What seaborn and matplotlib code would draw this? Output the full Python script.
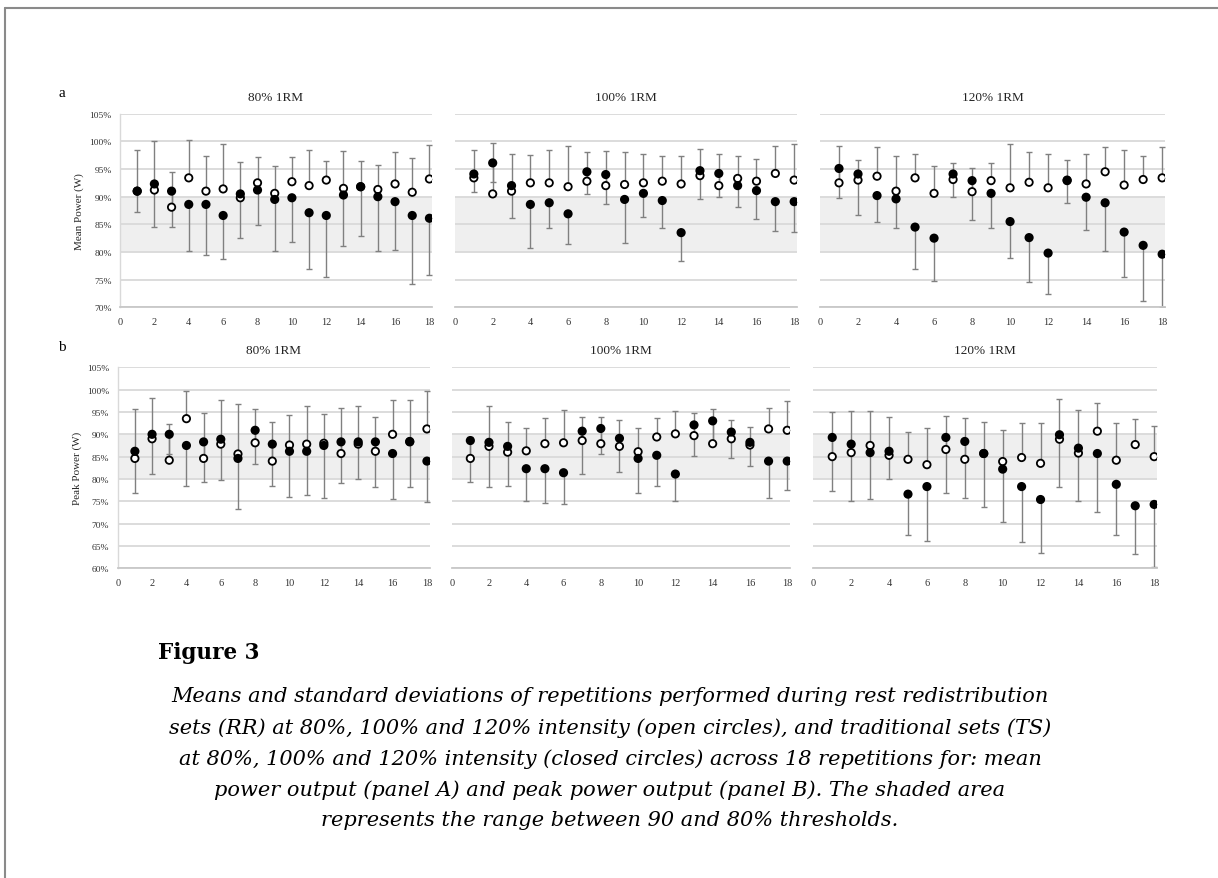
import numpy as np
import pandas as pd
import matplotlib.pyplot as plt
import seaborn as sns
from matplotlib.lines import Line2D

reps = list(range(1, 19))
intensities = ["80% 1RM", "100% 1RM", "120% 1RM"]

# panel a - mean power (% of reference), open = RR, closed = TS
mean_80_rr = [91.0, 91.2, 88.1, 93.4, 91.0, 91.4, 89.8, 92.5, 90.6, 92.7, 92.0, 93.0, 91.5, 91.8, 91.3, 92.3, 90.8, 93.2]
mean_80_ts = [91.0, 92.3, 91.0, 88.6, 88.6, 86.6, 90.5, 91.2, 89.5, 89.8, 87.1, 86.6, 90.3, 91.8, 90.0, 89.1, 86.6, 86.1]
mean_80_rr_hi = [98.4, 100.0, 94.5, 100.3, 97.4, 99.5, 96.3, 97.2, 95.6, 97.1, 98.5, 96.4, 98.3, 96.4, 95.8, 98.0, 97.0, 99.3]
mean_80_ts_lo = [87.3, 84.6, 84.6, 80.1, 79.5, 78.7, 82.6, 84.8, 80.1, 81.8, 77.0, 75.5, 81.0, 82.8, 80.1, 80.3, 74.2, 75.8]

mean_100_rr = [93.4, 90.5, 91.0, 92.5, 92.5, 91.8, 92.8, 92.0, 92.2, 92.5, 92.8, 92.3, 93.8, 92.0, 93.3, 92.8, 94.2, 93.0]
mean_100_ts = [94.1, 96.1, 92.0, 88.6, 88.9, 86.9, 94.5, 94.0, 89.5, 90.6, 89.3, 83.5, 94.7, 94.2, 92.0, 91.1, 89.1, 89.1]
mean_100_rr_hi = [98.4, 99.7, 97.8, 97.5, 98.5, 99.2, 98.0, 98.2, 98.1, 97.8, 97.3, 97.3, 98.7, 97.8, 97.3, 96.8, 99.2, 99.5]
mean_100_ts_lo = [90.8, 92.6, 86.2, 80.8, 84.3, 81.4, 90.4, 88.6, 81.7, 86.4, 84.3, 78.4, 89.5, 90.0, 88.1, 86.0, 83.8, 83.6]

mean_120_rr = [92.5, 93.0, 93.7, 91.0, 93.4, 90.6, 93.1, 90.9, 92.9, 91.6, 92.6, 91.6, 92.9, 92.3, 94.5, 92.1, 93.1, 93.4]
mean_120_ts = [95.1, 94.1, 90.2, 89.6, 84.5, 82.5, 94.1, 92.9, 90.6, 85.5, 82.6, 79.8, 93.0, 89.9, 88.9, 83.6, 81.2, 79.6]
mean_120_rr_hi = [99.1, 96.7, 98.9, 97.4, 97.8, 95.5, 96.1, 95.1, 96.1, 99.6, 98.1, 97.8, 96.7, 97.8, 98.9, 98.4, 97.3, 98.9]
mean_120_ts_lo = [89.8, 86.7, 85.5, 84.3, 77.0, 74.7, 90.0, 85.8, 84.3, 78.9, 74.5, 72.4, 88.8, 83.9, 80.1, 75.4, 71.2, 70.0]

# panel b - peak power
peak_80_rr = [84.6, 89.0, 84.2, 93.5, 84.6, 87.8, 85.6, 88.1, 84.0, 87.6, 87.8, 88.0, 85.7, 87.8, 86.2, 90.0, 88.3, 91.2]
peak_80_ts = [86.2, 90.0, 90.0, 87.5, 88.3, 88.9, 84.6, 90.9, 87.8, 86.2, 86.2, 87.5, 88.3, 88.3, 88.3, 85.7, 88.4, 84.0]
peak_80_rr_hi = [95.6, 98.1, 92.3, 99.7, 94.7, 97.7, 96.8, 95.6, 92.7, 94.3, 96.4, 94.6, 95.8, 96.3, 93.9, 97.7, 97.7, 99.7]
peak_80_ts_lo = [76.9, 81.1, 85.5, 78.4, 79.4, 79.7, 73.3, 83.3, 78.4, 76.0, 76.4, 75.7, 79.0, 79.9, 78.1, 75.5, 78.1, 74.9]

peak_100_rr = [84.6, 87.3, 86.0, 86.3, 87.9, 88.1, 88.6, 87.9, 87.3, 86.1, 89.4, 90.1, 89.7, 87.9, 89.0, 87.6, 91.2, 90.9]
peak_100_ts = [88.6, 88.2, 87.3, 82.3, 82.3, 81.4, 90.7, 91.3, 89.1, 84.6, 85.3, 81.1, 92.1, 93.0, 90.5, 88.2, 84.0, 84.0]
peak_100_rr_hi = [89.5, 96.4, 92.7, 91.4, 93.6, 95.4, 93.9, 93.9, 93.1, 91.4, 93.6, 95.2, 94.7, 95.6, 93.3, 91.6, 96.0, 97.4]
peak_100_ts_lo = [79.4, 78.1, 78.4, 75.0, 74.6, 74.4, 81.2, 85.5, 81.5, 76.9, 78.4, 75.0, 85.1, 88.0, 84.8, 83.0, 75.8, 77.6]

peak_120_rr = [85.0, 85.9, 87.5, 85.3, 84.4, 83.2, 86.6, 84.4, 85.7, 83.9, 84.8, 83.5, 88.9, 85.8, 90.7, 84.2, 87.7, 85.0]
peak_120_ts = [89.3, 87.8, 85.9, 86.2, 76.6, 78.3, 89.3, 88.4, 85.7, 82.2, 78.3, 75.4, 89.9, 86.9, 85.7, 78.8, 74.0, 74.3]
peak_120_rr_hi = [94.9, 95.2, 95.2, 93.9, 90.6, 91.4, 94.2, 93.7, 92.8, 90.9, 92.5, 92.6, 97.8, 95.5, 97.0, 92.6, 93.5, 91.9]
peak_120_ts_lo = [77.2, 75.1, 75.5, 80.1, 67.4, 66.2, 76.9, 75.8, 73.8, 70.4, 66.0, 63.5, 78.3, 75.0, 72.6, 67.4, 63.1, 60.4]

caption = [
    "Means and standard deviations of repetitions performed during rest redistribution",
    "sets (RR) at 80%, 100% and 120% intensity (open circles), and traditional sets (TS)",
    "at 80%, 100% and 120% intensity (closed circles) across 18 repetitions for: mean",
    "power output (panel A) and peak power output (panel B). The shaded area",
    "represents the range between 90 and 80% thresholds.",
]

sns.set_style("white")
plt.rcParams["font.family"] = ["Liberation Serif", "DejaVu Serif"]
plt.rcParams["text.color"] = "black"

W, H = 1218, 879
fig = plt.figure(figsize=(W / 100, H / 100), dpi=100)

def px_axes(x0, x1, ytop, ybot):
    return fig.add_axes([x0 / W, 1 - ybot / H, (x1 - x0) / W, (ybot - ytop) / H])

rows = [
    {
        "label": "a", "ylabel": "Mean Power (W)", "ylim": (70, 105),
        "ytop": 114.7, "ybot": 308.3,
        "cols": [(120, 432), (455, 797), (820, 1165)],
        "data": [
            (mean_80_rr, mean_80_ts, mean_80_rr_hi, mean_80_ts_lo),
            (mean_100_rr, mean_100_ts, mean_100_rr_hi, mean_100_ts_lo),
            (mean_120_rr, mean_120_ts, mean_120_rr_hi, mean_120_ts_lo),
        ],
    },
    {
        "label": "b", "ylabel": "Peak Power (W)", "ylim": (60, 105),
        "ytop": 368.3, "ybot": 569.3,
        "cols": [(117.7, 429.5), (451.7, 790), (813.3, 1157)],
        "data": [
            (peak_80_rr, peak_80_ts, peak_80_rr_hi, peak_80_ts_lo),
            (peak_100_rr, peak_100_ts, peak_100_rr_hi, peak_100_ts_lo),
            (peak_120_rr, peak_120_ts, peak_120_rr_hi, peak_120_ts_lo),
        ],
    },
]

for row in rows:
    for j, (x0, x1) in enumerate(row["cols"]):
        ax = px_axes(x0, x1, row["ytop"], row["ybot"])
        rr, ts, rr_hi, ts_lo = row["data"][j]
        rr = np.array(rr)
        ts = np.array(ts)
        df = pd.DataFrame({
            "rep": reps + reps,
            "power": list(rr) + list(ts),
            "set": ["RR"] * 18 + ["TS"] * 18,
        })

        ax.axhspan(80, 90, color="#efefef", zorder=0, lw=0)
        ax.errorbar(reps, rr, yerr=[np.zeros(18), np.array(rr_hi) - rr], fmt="none",
                    ecolor="#808080", elinewidth=1.0, capsize=2, capthick=1.0, zorder=2)
        ax.errorbar(reps, ts, yerr=[ts - np.array(ts_lo), np.zeros(18)], fmt="none",
                    ecolor="#808080", elinewidth=1.0, capsize=2, capthick=1.0, zorder=2)
        sns.scatterplot(data=df, x="rep", y="power", hue="set",
                        palette={"RR": "white", "TS": "black"}, edgecolor="black",
                        linewidth=1.3, s=28, legend=False, ax=ax, zorder=3)

        lo, hi = row["ylim"]
        ax.set_ylim(lo, hi)
        ax.set_xlim(0, 18.15)
        ax.set_yticks(np.arange(lo, hi + 1, 5))
        ax.set_yticklabels([f"{v}%" for v in range(lo, hi + 1, 5)])
        ax.set_xticks(range(0, 19, 2))
        ax.yaxis.grid(True, color="#d9d9d9", lw=1.3)
        ax.xaxis.grid(False)
        ax.set_axisbelow(True)
        ax.tick_params(length=0, colors="#333333")
        ax.tick_params(axis="y", labelsize=6.8, pad=6)
        ax.tick_params(axis="x", labelsize=7.5, pad=7)
        ax.set_xlabel("")
        ax.set_ylabel("")
        for side in ["top", "right"]:
            ax.spines[side].set_visible(False)
        ax.spines["bottom"].set_color("#c8c8c8")
        ax.spines["bottom"].set_linewidth(1.3)
        if j == 0:
            ax.spines["left"].set_color("#d9d9d9")
            ax.spines["left"].set_linewidth(1.0)
            ax.set_ylabel(row["ylabel"], fontsize=8, labelpad=4)
        else:
            ax.spines["left"].set_visible(False)
            ax.tick_params(labelleft=False)
        ax.set_title(intensities[j], fontsize=9.5, pad=10, color="#222222")

    fig.text(62 / W, 1 - (row["ytop"] - 21) / H, row["label"], fontsize=11,
             ha="center", va="center")

# page frame (cropped scan of the figure box)
fig.add_artist(Line2D([5 / W, 1], [1 - 9 / H, 1 - 9 / H], color="#8a8a8a", lw=1.5))
fig.add_artist(Line2D([5 / W, 5 / W], [0, 1 - 9 / H], color="#8a8a8a", lw=1.5))

fig.text(158 / W, 1 - 653 / H, "Figure 3", fontsize=15.5, fontweight="bold",
         family="DejaVu Serif", ha="left", va="center")
for i, line in enumerate(caption):
    fig.text(610 / W, 1 - (697 + 31 * i) / H, line, fontsize=15, style="italic",
             family="DejaVu Serif", ha="center", va="center")

fig.savefig("out.png", dpi=100)
